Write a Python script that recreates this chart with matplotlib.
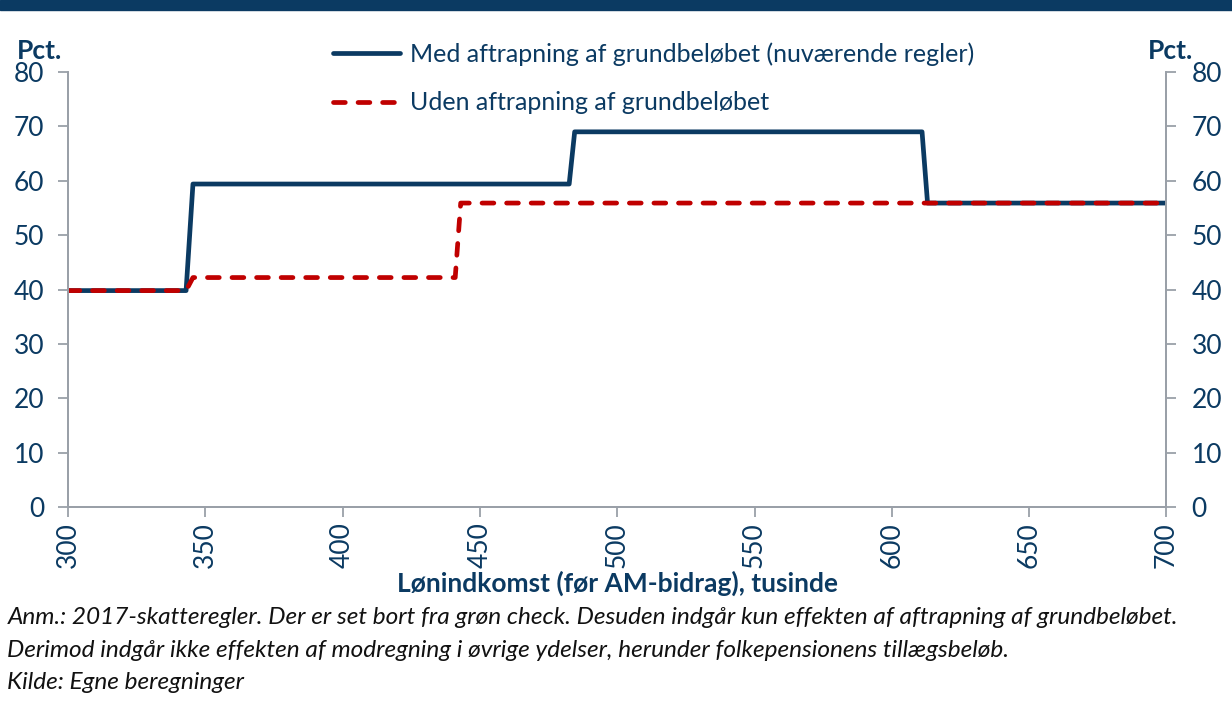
import matplotlib.pyplot as plt
from matplotlib.patches import Rectangle

plt.rcParams['font.family'] = ['Lato', 'DejaVu Sans']

# Lønindkomst (tusinde kr.) og marginalskat (pct.)
med_x = [300, 343, 345.5, 482.5, 484.5, 611, 613, 700]
med_y = [39.8, 39.8, 59.4, 59.4, 69.0, 69.0, 55.9, 55.9]

uden_x = [300, 343, 345.5, 441, 443, 700]
uden_y = [39.8, 39.8, 42.2, 42.2, 55.9, 55.9]

xticks = [300, 350, 400, 450, 500, 550, 600, 650, 700]
yticks = [0, 10, 20, 30, 40, 50, 60, 70, 80]

blue = '#0B3A62'
red = '#C00000'
grey = '#9AA0A8'

fig = plt.figure(figsize=(12.32, 7.02), dpi=100)
ax = fig.add_axes([0.0552, 0.2778, 0.8916, 0.6196])

ax.plot(med_x, med_y, color=blue, lw=3.4, solid_joinstyle='round',
        solid_capstyle='round', label='Med aftrapning af grundbeløbet (nuværende regler)')
ax.plot(uden_x, uden_y, color=red, lw=3.4, dashes=(2.5, 2.7), dash_capstyle='round',
        dash_joinstyle='round', label='Uden aftrapning af grundbeløbet')

ax.set_xlim(300, 700)
ax.set_ylim(0, 80)
ax.set_xticks(xticks)
ax.set_yticks(yticks)
ax.tick_params(axis='x', labelrotation=90, labelsize=19, colors=grey, labelcolor=blue,
               length=7, width=1.3, pad=4)
ax.tick_params(axis='y', labelsize=19, colors=grey, labelcolor=blue, length=7, width=1.3, pad=10)

ax2 = ax.twinx()
ax2.set_ylim(0, 80)
ax2.set_yticks(yticks)
ax2.tick_params(axis='y', labelsize=19, colors=grey, labelcolor=blue, length=7, width=1.3, pad=11)

for a in (ax, ax2):
    a.spines['top'].set_visible(False)
    for s in ('left', 'right', 'bottom'):
        a.spines[s].set_color(grey)
        a.spines[s].set_linewidth(1.3)

ax.set_xlabel('Lønindkomst (før AM-bidrag), tusinde', fontsize=19, fontweight='bold',
              color=blue, va='top')
ax.xaxis.set_label_coords(0.5, -0.147)

ax.legend(loc='upper left', bbox_to_anchor=(0.241, 1.069), frameon=False, fontsize=18,
          handlelength=2.68, labelcolor=blue, labelspacing=1.03, handletextpad=0.4,
          borderpad=0, borderaxespad=0)

fig.text(0.014, 0.928, 'Pct.', fontsize=19, fontweight='bold', color=blue, va='center')
fig.text(0.932, 0.928, 'Pct.', fontsize=19, fontweight='bold', color=blue, va='center')

# top band
fig.patches.append(Rectangle((0, 0.986), 1, 0.014, transform=fig.transFigure,
                             color=blue, zorder=0))

notes = ['Anm.: 2017-skatteregler. Der er set bort fra grøn check. Desuden indgår kun effekten af aftrapning af grundbeløbet.',
         'Derimod indgår ikke effekten af modregning i øvrige ydelser, herunder folkepensionens tillægsbeløb.',
         'Kilde: Egne beregninger']
for i, t in enumerate(notes):
    fig.text(0.006, 0.12 - i * 0.046, t, fontsize=17.6, style='italic', color='#111111',
             va='center')

fig.savefig('out.png', dpi=100)
